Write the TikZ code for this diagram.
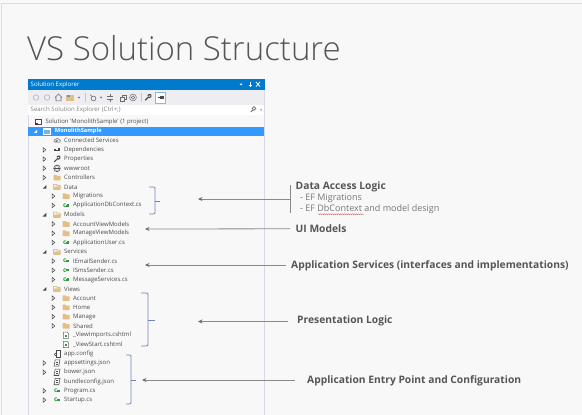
\documentclass[tikz,border=0pt]{standalone}
\usepackage{fontspec}
\setmainfont{Open Sans}
\newfontfamily\ttlfont{Open Sans Light}
\usetikzlibrary{decorations.pathmorphing,arrows.meta}
\definecolor{slidebg}{HTML}{F8F8F8}
\definecolor{slideedge}{HTML}{DDDDDD}
\definecolor{vsblue}{HTML}{007ACC}
\definecolor{vssel}{HTML}{3399FF}
\definecolor{vsbar}{HTML}{EEEEF2}
\definecolor{vsedge}{HTML}{D6D9E8}
\definecolor{treetxt}{HTML}{4A4A4A}
\definecolor{labeltxt}{HTML}{555555}
\definecolor{subtxt}{HTML}{777777}
\definecolor{folderc}{HTML}{E3BE85}
\definecolor{csgreen}{HTML}{2E9B3C}
\definecolor{bracec}{HTML}{6F84B4}
\definecolor{arrowc}{HTML}{8A8A8A}
\definecolor{toolc}{HTML}{6A6A6A}
\definecolor{squig}{HTML}{E0585A}
\tikzset{
  x=1pt,y=-1pt,
  treetext/.style={anchor=west,inner sep=0pt,text=treetxt,font=\fontsize{6}{7}\selectfont},
  heading/.style={anchor=west,inner sep=0pt,text=labeltxt,font=\fontsize{10.27}{12}\selectfont\bfseries},
  subhead/.style={anchor=west,inner sep=0pt,text=subtxt,font=\fontsize{9}{10}\selectfont},
  bracket/.style={draw=bracec,line width=.8pt},
  pointer/.style={draw=arrowc,line width=.8pt,-{Stealth[length=4.5pt,width=4pt,color=toolc]}},
  pics/none/.style={code={}},
  pics/folder/.style={code={\fill[folderc] (-3.5,-2.8)--(-.5,-2.8)--(.3,-1.8)--(3.5,-1.8)--(3.5,2.8)--(-3.5,2.8)--cycle;}},
  pics/ofolder/.style={code={\draw[folderc!85!black,line width=.5pt,fill=slidebg] (-3.5,-2.5)--(-.5,-2.5)--(.3,-1.6)--(3,-1.6)--(3,2.6)--(-3.5,2.6)--cycle;\fill[folderc] (-3.5,2.6)--(-2.2,-.4)--(4,-.4)--(3,2.6)--cycle;}},
  pics/cs/.style={code={\node[inner sep=0pt,text=csgreen,font=\fontsize{6.5}{7}\selectfont\bfseries] at (-1.2,0) {c};\draw[csgreen,line width=.35pt] (1,-1.2)--(1,.8)(2.4,-1.2)--(2.4,.8)(.2,-.7)--(3.1,-.7)(.2,.3)--(3.1,.3);}},
  pics/page/.style={code={\draw[toolc,line width=.5pt,fill=white] (-2.6,-3.2)--(1,-3.2)--(2.6,-1.6)--(2.6,3.2)--(-2.6,3.2)--cycle;\draw[csgreen,line width=.4pt] (-1.2,-.5)--(1.2,-.5)(-1.2,1.2)--(1.2,1.2);}},
  pics/json/.style={code={\draw[treetxt,line width=.55pt] (-1.8,-3.2)--(3,-3.2)--(1.8,3.2)--(-3,3.2)--cycle;\draw[treetxt,line width=.45pt] (-.7,-1.2)--(1.3,-1.2)(-1.1,.8)--(.9,.8);}},
  pics/config/.style={code={\draw[treetxt,line width=.55pt] (-.5,-3.2)--(3,-3.2)--(3,3.2)--(-.5,3.2)--cycle;\fill[treetxt] (-1.5,.8) circle (1.6);\fill[slidebg] (-1.5,.8) circle (.6);}},
  pics/cloud/.style={code={\draw[toolc,line width=.55pt] (-3,1.4) to[bend left=60] (-1.3,-1.4) to[bend left=60] (2.2,-1) to[bend left=70] (3,1.6) -- cycle;\draw[toolc,line width=.4pt] (-.3,.4) circle (1);}},
  pics/deps/.style={code={\fill[treetxt] (-2.9,-.9) rectangle (-1.2,.9);\fill[treetxt] (.6,-1.6) rectangle (3.4,1.6);\draw[treetxt,line width=.5pt] (-1.2,0)--(.6,0);}},
  pics/wrench/.style={code={\draw[treetxt,line width=1.1pt] (-2.8,2.8)--(.8,-.8);\draw[treetxt,line width=1.1pt] (-.2,-1.8)--(.8,-2.8)--(2.8,-2.8)(1.2,.3)--(2.8,-.9)--(2.8,-2.8);}},
  pics/globe/.style={code={\draw[treetxt,line width=.5pt] (0,0) circle (3.3);\draw[treetxt,line width=.4pt] (0,0) ellipse (1.4 and 3.3);\draw[treetxt,line width=.4pt] (-3.2,0)--(3.2,0);}},
  pics/solution/.style={code={\draw[treetxt,line width=.55pt,fill=white] (-3.3,-2.8) rectangle (3.3,2.4);\fill[treetxt] (-3.3,-2.8) rectangle (3.3,-1.7);\fill[purple!70!blue] (-3,1) rectangle (-.4,3.4);}},
  pics/project/.style={code={\draw[white,line width=.5pt,fill=vsblue!55!white] (-3.3,-3) rectangle (3.3,3);\fill[white] (-3.3,-3) rectangle (3.3,-1.8);}},
  pics/expn/.style={code={}},
  pics/expr/.style={code={\draw[treetxt,line width=.55pt] (-1.3,-2.2)--(1.3,0)--(-1.3,2.2)--cycle;}},
  pics/expd/.style={code={\fill[treetxt] (1.8,-1.8)--(1.8,1.8)--(-1.8,1.8)--cycle;}},
  pics/expw/.style={code={\fill[white] (1.6,-1.6)--(1.6,1.6)--(-1.6,1.6)--cycle;}},
}
\begin{document}
\begin{tikzpicture}
\useasboundingbox (0,0) rectangle (582,415);
% slide
\fill[slidebg] (0,0) rectangle (582,415);
\draw[slideedge,line width=1pt] (1,415)--(1,3.5)--(582,3.5);
\node[anchor=base west,inner sep=0pt,text=labeltxt,font=\fontsize{33}{40}\selectfont\ttlfont] (title) at (27,60) {VS Solution Structure};
% explorer panel
\fill[slidebg] (28,79) rectangle (264.5,415);
\draw[vsedge,line width=.7pt] (28,89)--(28,415) (264.5,89)--(264.5,415);
\fill[vsblue] (28,79) rectangle (264.5,90);
\fill[vsbar] (28.4,90) rectangle (264.1,105);
\fill[white] (28.4,105) rectangle (264.1,114.5);
\fill[vssel] (28.4,126.8) rectangle (264.1,136);
\node[anchor=west,inner sep=0pt,text=white,font=\fontsize{6.1}{7}\selectfont] (paneltitle) at (30.5,84.5) {Solution Explorer};
\node[anchor=west,inner sep=0pt,text=gray,font=\fontsize{6.1}{7}\selectfont] (search) at (30.5,109.7) {Search Solution Explorer (Ctrl+;)};
% title-bar glyphs
\fill[white] (239.5,83.5)--(242.5,83.5)--(241,85.5)--cycle;
\draw[white,line width=.8pt] (250,81.5)--(250,85)(248.5,85)--(251.5,85)(250,85)--(250,87);
\draw[white,line width=.8pt] (256,82)--(260,86.5)(260,82)--(256,86.5);
% toolbar glyphs
\foreach \tx in {36,47}{\draw[gray!55,line width=.7pt] (\tx,97.5) circle (2.7);}
\draw[toolc,line width=.6pt] (55,97.5)--(58.5,94)--(62,97.5)(56,97)--(56,100.8)--(61,100.8)--(61,97);
\fill[folderc] (66,94.5) rectangle (73.5,100.5);
\fill[vsblue!70] (66.5,95) rectangle (69.5,97);
\foreach \tx in {79,101}{\fill[toolc] (\tx-1.3,96.8)--(\tx+1.3,96.8)--(\tx,98.5)--cycle;}
\draw[gray!45,line width=.5pt] (85,93)--(85,102)(141,93)--(141,102);
\draw[toolc,line width=.6pt] (93.5,98.5) circle (2.4);
\draw[toolc,line width=.5pt] (90,94.5)--(92,96.5);
\draw[toolc,line width=.6pt] (107,96)--(113,96)(107,99.5)--(113,99.5)(110,94)--(110,96)(110,99.5)--(110,101.5);
\draw[toolc,line width=.5pt,fill=vsbar] (122,95) rectangle (126,99);
\draw[toolc,line width=.5pt,fill=vsbar] (120,96.8) rectangle (124,100.8);
\draw[toolc,line width=.5pt] (133,97.5) circle (3.4);
\draw[toolc,line width=.5pt] (133,97.5) circle (1.8);
\pic at (148,97.5) {wrench};
\draw[vsblue!50!white,line width=.7pt,fill=white] (155,92.5) rectangle (165.5,103);
\draw[treetxt,line width=.9pt] (157.5,97.7)--(160,97.7);
\fill[treetxt] (160,96.3) rectangle (163.5,99);
% search glyphs
\draw[toolc,line width=.7pt] (254,108.5) circle (1.8);
\draw[toolc,line width=.9pt] (252.7,110)--(250.8,112);
\fill[gray] (260,109.3)--(262.2,109.3)--(261.1,110.8)--cycle;
% tree rows: index / text x / icon / expander / text
\foreach \i/\tx/\ic/\ex/\lab in {
 0/45.3/solution/expn/{Solution \textquotesingle MonolithSample\textquotesingle\ (1 project)},
 2/64/cloud/expn/{Connected Services},
 3/64/deps/expr/{Dependencies},
 4/64/wrench/expr/{Properties},
 5/64/globe/expr/{wwwroot},
 6/64/folder/expr/{Controllers},
 7/64/ofolder/expd/{Data},
 8/73/folder/expr/{Migrations},
 9/73/cs/expr/{ApplicationDbContext.cs},
 10/64/ofolder/expd/{Models},
 11/73/folder/expr/{AccountViewModels},
 12/73/folder/expr/{ManageViewModels},
 13/73/cs/expr/{ApplicationUser.cs},
 14/64/ofolder/expd/{Services},
 15/73/cs/expr/{IEmailSender.cs},
 16/73/cs/expr/{ISmsSender.cs},
 17/73/cs/expr/{MessageServices.cs},
 18/64/ofolder/expd/{Views},
 19/73/folder/expr/{Account},
 20/73/folder/expr/{Home},
 21/73/folder/expr/{Manage},
 22/73/folder/expr/{Shared},
 23/73/page/expn/{\_ViewImports.cshtml},
 24/73/page/expn/{\_ViewStart.cshtml},
 25/64/config/expn/{app.config},
 26/64/json/expr/{appsettings.json},
 27/64/json/expr/{bower.json},
 28/64/json/expn/{bundleconfig.json},
 29/64/cs/expr/{Program.cs},
 30/64/cs/expr/{Startup.cs}}{
  \pgfmathsetmacro{\ry}{122+9.27*\i}
  \pgfmathsetmacro{\ix}{\tx-7}
  \pgfmathsetmacro{\ax}{\tx-19.5}
  \node[treetext] (row\i) at (\tx,\ry) {\lab};
  \pic at (\ix,\ry) {\ic};
  \pic at (\ax,\ry) {\ex};
}
\pic at (46.8,131.3) {project};
\pic at (35.6,131.3) {expw};
\node[treetext,text=white,font=\fontsize{5.7}{7}\selectfont\bfseries] (row1) at (54.7,131.3) {MonolithSample};
% brackets
\coordinate (dataTip) at (160,201);
\coordinate (viewsTip) at (155,320);
\coordinate (entryTip) at (136,380);
\draw[bracket] (149,187)--(153.5,187)..controls (155,187) and (155,188) .. (155,189)--(155,212)..controls (155,213) and (155,214) .. (153.5,214)--(149,214);
\draw[bracket] (155,201)--(dataTip);
\draw[bracket] (141,293)--(146.5,293)..controls (148,293) and (148,294) .. (148,295)--(148,344)..controls (148,345) and (148,346) .. (146.5,346)--(141,346);
\draw[bracket] (148,320)--(viewsTip);
\draw[bracket] (126,355)--(129.5,355)..controls (131,355) and (131,356) .. (131,357)--(131,402)..controls (131,403) and (131,404) .. (129.5,404)--(126,404);
\draw[bracket] (131,380)--(entryTip);
% labels
\node[heading] (lData) at (295.5,186.5) {Data Access Logic};
\node[subhead] (lMig) at (300,198.5) {- EF Migrations};
\node[subhead] (lCtx) at (300,209) {- EF DbContext and model design};
\node[heading] (lUI) at (295.5,228.5) {UI Models};
\node[heading] (lSvc) at (291,266) {Application Services (interfaces and implementations)};
\node[heading] (lPres) at (297,320.5) {Presentation Logic};
\node[heading] (lEntry) at (307,381) {Application Entry Point and Configuration};
\draw[squig,line width=.4pt,decorate,decoration={snake,amplitude=.45pt,segment length=2pt}] (318,214.2)--(364,214.2);
% pointers
\coordinate (dataBar) at (290,199);
\coordinate (tData) at (198,199);
\coordinate (tUI) at (145,229);
\coordinate (tSvc) at (145,265);
\coordinate (tPres) at (198,321.5);
\coordinate (tEntry) at (142,380);
\draw[arrowc,line width=.8pt] (290,185)--(290,213);
\draw[pointer] (dataBar)--(tData);
\draw[pointer] (lUI.west)+(-5.5,.3) -- (tUI);
\draw[pointer] (lSvc.west)+(-5.5,-1) -- (tSvc);
\draw[pointer] (lPres.west)+(-9,1) -- (tPres);
\draw[pointer] (lEntry.west)+(-12,-1) -- (tEntry);
\end{tikzpicture}
\end{document}
